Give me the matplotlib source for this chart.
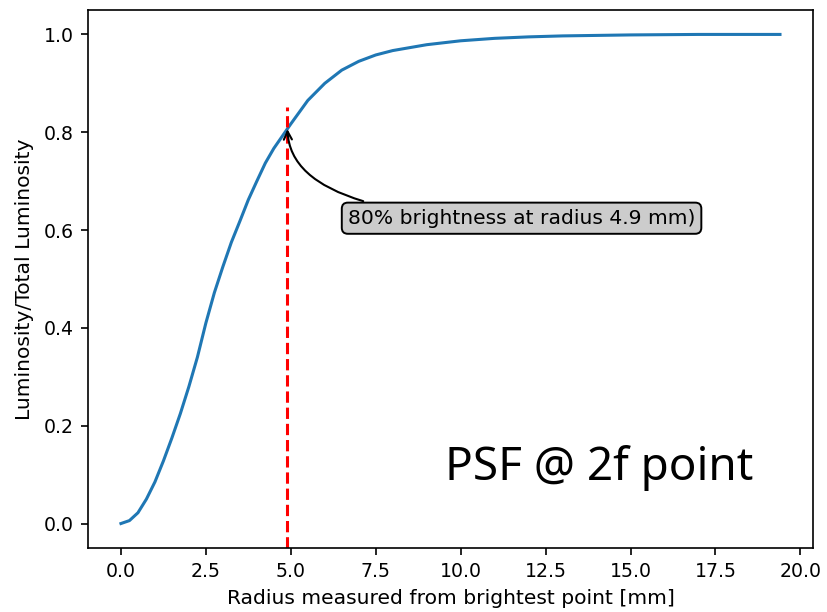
import matplotlib
matplotlib.use('Agg')
import matplotlib.pyplot as plt

# 半径与累计亮度
radius = [0, 0.25, 0.5, 0.75, 1.0, 1.25, 1.5, 1.75, 2.0, 2.25, 2.5, 2.75,
          3.0, 3.25, 3.5, 3.75, 4.0, 4.25, 4.5, 4.75, 5.0, 5.5, 6.0, 6.5,
          7.0, 7.5, 8.0, 9.0, 10.0, 11.0, 12.0, 13.0, 14.0, 15.0, 16.0,
          17.0, 18.0, 19.4]
lum_ratio = [0.0, 0.006, 0.022, 0.05, 0.085, 0.128, 0.175, 0.225, 0.28,
             0.34, 0.41, 0.472, 0.525, 0.575, 0.618, 0.662, 0.70, 0.737,
             0.767, 0.792, 0.817, 0.865, 0.90, 0.927, 0.945, 0.958, 0.967,
             0.979, 0.987, 0.992, 0.995, 0.997, 0.998, 0.999, 0.9995, 1.0,
             1.0, 1.0]
r80 = 4.9
label_text = '80% brightness at radius 4.9 mm)'
title_text = 'PSF @ 2f point'


def main():
    fig = plt.figure(figsize=(8.27, 6.12), dpi=100)
    ax = fig.add_axes([0.1064, 0.1046, 0.8766, 0.8791])

    ax.plot(radius, lum_ratio, color='tab:blue', lw=2.2)
    ax.axvline(r80, ymax=0.82, color='red', ls='--', lw=2.2)

    # 标注 80% 位置
    ax.annotate(label_text, xy=(r80, 0.812), xytext=(6.68, 0.613),
                fontsize=14.6,
                bbox=dict(boxstyle='round', fc='0.8', lw=1.4),
                arrowprops=dict(arrowstyle='->', lw=1.5,
                                connectionstyle='angle3,angleA=0,angleB=-90'))

    ax.text(9.53, 0.09, title_text, fontsize=33, family='Noto Sans')

    ax.set_xlabel('Radius measured from brightest point [mm]',
                  fontsize=14.6, labelpad=5.5)
    ax.set_ylabel('Luminosity/Total Luminosity',
                  fontsize=14.6, labelpad=7)

    ax.set_xticks([0, 2.5, 5, 7.5, 10, 12.5, 15, 17.5, 20])
    ax.set_yticks([0, 0.2, 0.4, 0.6, 0.8, 1.0])
    ax.tick_params(axis='both', labelsize=13.6, length=5, width=1.2, pad=5)
    for sp in ax.spines.values():
        sp.set_linewidth(1.2)

    fig.savefig('out.png', dpi=100)


if __name__ == '__main__':
    main()
